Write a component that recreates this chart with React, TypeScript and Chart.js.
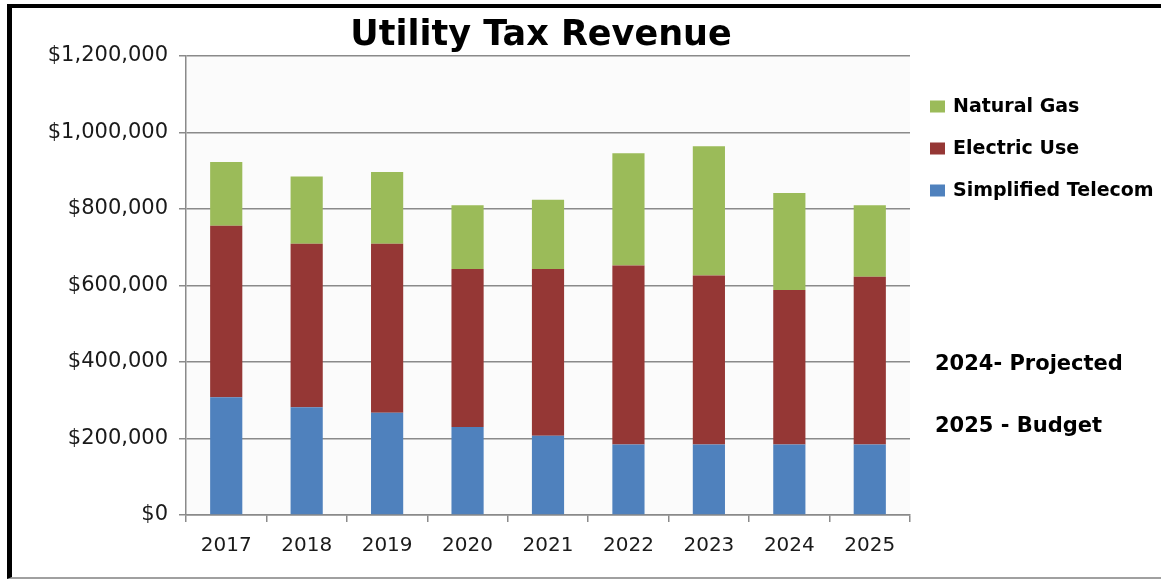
import React, { useEffect, useRef } from "react";
import { Chart, registerables } from "chart.js";

Chart.register(...registerables);

const years = ["2017", "2018", "2019", "2020", "2021", "2022", "2023", "2024", "2025"];
const simplifiedTelecom = [308000, 282000, 267000, 230000, 207000, 184000, 184000, 184000, 184000];
const electricUse = [448000, 427000, 442000, 413000, 436000, 468000, 442000, 404000, 439000];
const naturalGas = [167000, 176000, 188000, 167000, 181000, 294000, 338000, 254000, 187000];
const chartTitle = "Utility Tax Revenue";
const notes = ["2024- Projected", "2025 - Budget"];

const BLUE = "#4f81bd";
const RED = "#953735";
const GREEN = "#9bbb59";
const FONT = "'DejaVu Sans', sans-serif";

const fmt = (v: number) => "$" + Math.round(v).toLocaleString("en-US");

export default function App() {
  const ref = useRef<HTMLCanvasElement | null>(null);

  useEffect(() => {
    document.documentElement.style.overflow = "hidden";
    document.body.style.overflow = "hidden";
    const canvas = ref.current;
    if (!canvas) return;

    const decor = {
      id: "decor",
      beforeDraw(chart: any) {
        const { ctx, chartArea } = chart;
        ctx.save();
        ctx.fillStyle = "#fbfbfb";
        ctx.fillRect(chartArea.left, chartArea.top, chartArea.right - chartArea.left, chartArea.bottom - chartArea.top);
        ctx.restore();
      },
      afterDraw(chart: any) {
        const { ctx } = chart;
        ctx.save();
        ctx.fillStyle = "#000";
        ctx.font = `bold 35px ${FONT}`;
        ctx.textAlign = "center";
        ctx.textBaseline = "alphabetic";
        ctx.fillText(chartTitle, 541, 45);
        const items = [
          { label: chart.data.datasets[2].label, color: GREEN, y: 106.5 },
          { label: chart.data.datasets[1].label, color: RED, y: 148.5 },
          { label: chart.data.datasets[0].label, color: BLUE, y: 190.5 },
        ];
        ctx.font = `bold 19px ${FONT}`;
        ctx.textAlign = "left";
        ctx.textBaseline = "middle";
        items.forEach((it) => {
          ctx.fillStyle = it.color;
          ctx.fillRect(930, it.y - 6, 15, 12);
          ctx.fillStyle = "#000";
          ctx.fillText(it.label, 953, it.y + 1);
        });
        ctx.font = `bold 21px ${FONT}`;
        ctx.textBaseline = "alphabetic";
        ctx.fillText(notes[0], 935, 370);
        ctx.fillText(notes[1], 935, 432);
        ctx.restore();
      },
    };

    const chart = new Chart(canvas, {
      type: "bar",
      data: {
        labels: years,
        datasets: [
          { label: "Simplified Telecom", data: simplifiedTelecom, backgroundColor: BLUE },
          { label: "Electric Use", data: electricUse, backgroundColor: RED },
          { label: "Natural Gas", data: naturalGas, backgroundColor: GREEN },
        ],
      },
      options: {
        responsive: false,
        animation: false,
        datasets: { bar: { categoryPercentage: 1, barPercentage: 0.4 } },
        layout: { padding: { left: 20, top: 56, right: 251, bottom: 14 } },
        plugins: { legend: { display: false }, title: { display: false }, tooltip: { enabled: false } },
        scales: {
          x: {
            stacked: true,
            grid: { display: true, drawOnChartArea: false, drawTicks: true, tickLength: 7, color: "#8a8a8a", lineWidth: 1.5, offset: true },
            border: { display: true, color: "#8a8a8a", width: 1.5 },
            ticks: { color: "#1a1a1a", font: { family: FONT, size: 20 }, padding: 12, maxRotation: 0 },
            afterFit: (s: any) => { s.height = 50; },
          },
          y: {
            stacked: true,
            min: 0,
            max: 1200000,
            grid: { color: "#8a8a8a", lineWidth: 1.5, tickLength: 7 },
            border: { display: true, color: "#8a8a8a", width: 1.5 },
            ticks: { stepSize: 200000, color: "#1a1a1a", font: { family: FONT, size: 21 }, padding: 11, callback: (v: any) => fmt(Number(v)) },
            afterFit: (s: any) => { s.width = 166; },
          },
        },
      },
      plugins: [decor],
    });

    return () => chart.destroy();
  }, []);

  return (
    <div style={{ position: "absolute", left: 0, top: 0, width: 1161, height: 579, background: "#fff", overflow: "hidden" }}>
      <div
        style={{
          position: "absolute",
          left: 7,
          top: 4,
          width: 1154,
          height: 575,
          boxSizing: "border-box",
          borderTop: "4px solid #000",
          borderLeft: "5px solid #000",
          borderBottom: "2px solid #a0a0a0",
        }}
      />
      <canvas ref={ref} width={1161} height={579} style={{ position: "absolute", left: 0, top: 0 }} />
    </div>
  );
}
